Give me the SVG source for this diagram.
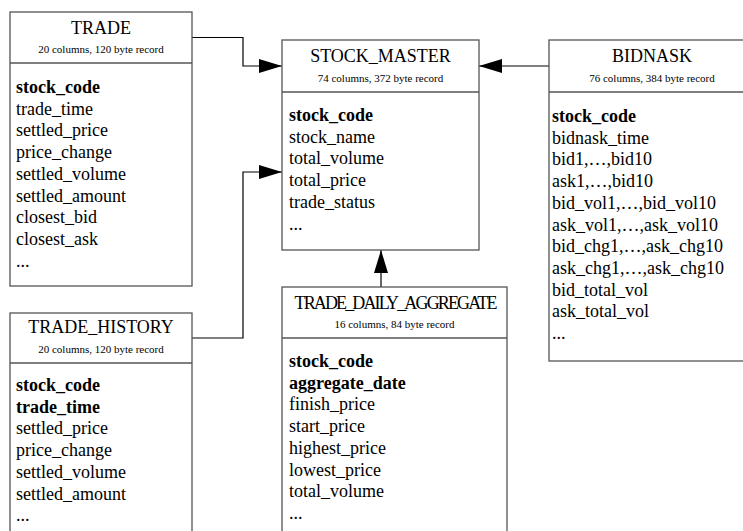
<svg xmlns="http://www.w3.org/2000/svg" width="743" height="531" viewBox="0 0 743 531">
  <style>
    text { font-family: "Liberation Serif", "Times New Roman", serif; fill: #000; }
    .title { font-size: 18px; text-anchor: middle; }
    .sub { font-size: 11px; text-anchor: middle; }
    .col { font-size: 18px; }
    .key { font-weight: bold; }
    .box { fill: #fff; stroke: #555; stroke-width: 1.3; }
    .div { stroke: #555; stroke-width: 1.3; }
    .link { fill: none; stroke: #000; stroke-width: 1.2; }
  </style>
  <defs>
    <marker id="head" markerUnits="userSpaceOnUse" markerWidth="24" markerHeight="14" refX="23" refY="7" orient="auto">
      <path d="M0,0 L23,7 L0,14 z" fill="#000"/>
    </marker>
  </defs>
  <rect width="743" height="531" fill="#fff"/>

  <!-- connectors into STOCK_MASTER -->
  <g id="connectors">
    <path class="link" d="M192,37.5 H243 V66 H282" marker-end="url(#head)"/>
    <path class="link" d="M192,338 H243 V172 H282" marker-end="url(#head)"/>
    <path class="link" d="M549,66 H479" marker-end="url(#head)"/>
    <path class="link" d="M381,287 V250" marker-end="url(#head)"/>
  </g>

  <g id="trade">
    <rect class="box" x="10" y="12" width="182" height="274"/>
    <line class="div" x1="10" y1="63" x2="192" y2="63"/>
    <text class="title" x="101" y="34">TRADE</text>
    <text class="sub" x="101" y="53">20 columns, 120 byte record</text>
    <text class="col key" x="16" y="93">stock_code</text>
    <text class="col" x="16" y="114.7">trade_time</text>
    <text class="col" x="16" y="136.4">settled_price</text>
    <text class="col" x="16" y="158.1">price_change</text>
    <text class="col" x="16" y="179.8">settled_volume</text>
    <text class="col" x="16" y="201.5">settled_amount</text>
    <text class="col" x="16" y="223.2">closest_bid</text>
    <text class="col" x="16" y="244.9">closest_ask</text>
    <text class="col" x="16" y="266.6">...</text>
  </g>

  <g id="trade_history">
    <rect class="box" x="10" y="313" width="182" height="230"/>
    <line class="div" x1="10" y1="363" x2="192" y2="363"/>
    <text class="title" x="101" y="333">TRADE_HISTORY</text>
    <text class="sub" x="101" y="353">20 columns, 120 byte record</text>
    <text class="col key" x="16" y="391">stock_code</text>
    <text class="col key" x="16" y="412.7">trade_time</text>
    <text class="col" x="16" y="434.4">settled_price</text>
    <text class="col" x="16" y="456.1">price_change</text>
    <text class="col" x="16" y="477.8">settled_volume</text>
    <text class="col" x="16" y="499.5">settled_amount</text>
    <text class="col" x="16" y="521.2">...</text>
  </g>

  <g id="stock_master">
    <rect class="box" x="282" y="40" width="197" height="210"/>
    <line class="div" x1="282" y1="92" x2="479" y2="92"/>
    <text class="title" x="380.5" y="62">STOCK_MASTER</text>
    <text class="sub" x="380.5" y="82">74 columns, 372 byte record</text>
    <text class="col key" x="289" y="121">stock_code</text>
    <text class="col" x="289" y="142.7">stock_name</text>
    <text class="col" x="289" y="164.4">total_volume</text>
    <text class="col" x="289" y="186.1">total_price</text>
    <text class="col" x="289" y="207.8">trade_status</text>
    <text class="col" x="289" y="229.5">...</text>
  </g>

  <g id="bidnask">
    <rect class="box" x="549" y="40" width="206" height="321"/>
    <line class="div" x1="549" y1="92" x2="755" y2="92"/>
    <text class="title" x="652" y="62">BIDNASK</text>
    <text class="sub" x="652" y="82">76 columns, 384 byte record</text>
    <text class="col key" x="552" y="122">stock_code</text>
    <text class="col" x="552" y="143.7">bidnask_time</text>
    <text class="col" x="552" y="165.4">bid1,…,bid10</text>
    <text class="col" x="552" y="187.1">ask1,…,bid10</text>
    <text class="col" x="552" y="208.8">bid_vol1,…,bid_vol10</text>
    <text class="col" x="552" y="230.5">ask_vol1,…,ask_vol10</text>
    <text class="col" x="552" y="252.2">bid_chg1,…,ask_chg10</text>
    <text class="col" x="552" y="273.9">ask_chg1,…,ask_chg10</text>
    <text class="col" x="552" y="295.6">bid_total_vol</text>
    <text class="col" x="552" y="317.3">ask_total_vol</text>
    <text class="col" x="552" y="339">...</text>
  </g>

  <g id="trade_daily_aggregate">
    <rect class="box" x="282" y="287" width="225" height="260"/>
    <line class="div" x1="282" y1="338" x2="507" y2="338"/>
    <text class="title" x="396" y="309" textLength="203" lengthAdjust="spacing">TRADE_DAILY_AGGREGATE</text>
    <text class="sub" x="394.5" y="328">16 columns, 84 byte record</text>
    <text class="col key" x="289" y="367">stock_code</text>
    <text class="col key" x="289" y="388.7">aggregate_date</text>
    <text class="col" x="289" y="410.4">finish_price</text>
    <text class="col" x="289" y="432.1">start_price</text>
    <text class="col" x="289" y="453.8">highest_price</text>
    <text class="col" x="289" y="475.5">lowest_price</text>
    <text class="col" x="289" y="497.2">total_volume</text>
    <text class="col" x="289" y="518.9">...</text>
  </g>
</svg>
